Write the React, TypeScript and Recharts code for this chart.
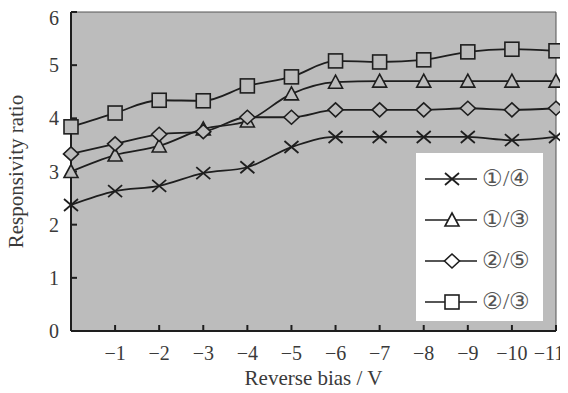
import React from "react";
import {
  LineChart,
  Line,
  XAxis,
  YAxis,
  CartesianGrid,
  ReferenceLine,
} from "recharts";

const biasValues = [0, -1, -2, -3, -4, -5, -6, -7, -8, -9, -10, -11];
const ratio14 = [2.37, 2.63, 2.73, 2.97, 3.08, 3.46, 3.65, 3.65, 3.65, 3.65, 3.59, 3.65];
const ratio13 = [3.0, 3.31, 3.48, 3.8, 3.95, 4.46, 4.68, 4.7, 4.7, 4.7, 4.7, 4.7];
const ratio25 = [3.33, 3.52, 3.7, 3.75, 4.02, 4.02, 4.16, 4.16, 4.16, 4.19, 4.16, 4.19];
const ratio23 = [3.84, 4.1, 4.34, 4.33, 4.61, 4.78, 5.08, 5.06, 5.1, 5.25, 5.3, 5.27];

const xTicks = [-1, -2, -3, -4, -5, -6, -7, -8, -9, -10, -11];
const yTicks = [0, 1, 2, 3, 4, 5, 6];

const seriesInfo = [
  { key: "r14", name: "①/④", marker: "cross" },
  { key: "r13", name: "①/③", marker: "triangle" },
  { key: "r25", name: "②/⑤", marker: "diamond" },
  { key: "r23", name: "②/③", marker: "square" },
];

const chartData = biasValues.map((v, i) => ({
  bias: v,
  r14: ratio14[i],
  r13: ratio13[i],
  r25: ratio25[i],
  r23: ratio23[i],
}));

const INK = "#1e1e1e";
const BG = "#bcbcbc";
const TEXT = "#3a3a3a";
const FONT = "'Liberation Serif', 'DejaVu Serif', serif";

function Marker({ kind, cx, cy, fill }: { kind: string; cx: number; cy: number; fill: string }) {
  if (kind === "cross") {
    return (
      <g stroke={INK} strokeWidth={1.8}>
        <line x1={cx - 7} y1={cy - 6} x2={cx + 7} y2={cy + 6} />
        <line x1={cx - 7} y1={cy + 6} x2={cx + 7} y2={cy - 6} />
      </g>
    );
  }
  if (kind === "triangle") {
    return (
      <polygon
        points={`${cx},${cy - 7} ${cx + 7},${cy + 6} ${cx - 7},${cy + 6}`}
        fill={fill}
        stroke={INK}
        strokeWidth={1.6}
      />
    );
  }
  if (kind === "diamond") {
    return (
      <polygon
        points={`${cx},${cy - 7} ${cx + 7.5},${cy} ${cx},${cy + 7} ${cx - 7.5},${cy}`}
        fill={fill}
        stroke={INK}
        strokeWidth={1.6}
      />
    );
  }
  return (
    <rect x={cx - 7} y={cy - 7} width={14} height={14} fill={fill} stroke={INK} strokeWidth={1.6} />
  );
}

function makeDot(kind: string) {
  return (props: any) => {
    const { cx, cy, index } = props;
    if (cx == null || cy == null) return <g key={index} />;
    return (
      <g key={index}>
        <Marker kind={kind} cx={cx} cy={cy} fill={BG} />
      </g>
    );
  };
}

// x tick labels, the last one nudged left so it stays on the page
function XTick(props: any) {
  const { x, y, payload } = props;
  const v = payload.value as number;
  const shift = v === -11 ? -7 : 0;
  return (
    <text x={x + shift} y={y + 15} textAnchor="middle" fill={TEXT} fontSize={20} fontFamily={FONT}>
      {`\u2212${Math.abs(v)}`}
    </text>
  );
}

function YTick(props: any) {
  const { x, y, payload } = props;
  const v = payload.value as number;
  const shift = v === 6 ? 6 : 0;
  return (
    <text x={x} y={y + 7 + shift} textAnchor="end" fill={TEXT} fontSize={20} fontFamily={FONT}>
      {v}
    </text>
  );
}

function LegendBox() {
  return (
    <div
      style={{
        position: "absolute",
        left: 416,
        top: 153,
        background: "#fff",
        width: 127,
        height: 168,
        boxSizing: "border-box",
        paddingTop: 5,
      }}
    >
      {seriesInfo.map((s) => (
        <div key={s.key} style={{ display: "flex", alignItems: "center", height: 41 }}>
          <svg width={54} height={20} style={{ marginLeft: 9, flexShrink: 0 }}>
            <line x1={0} y1={10} x2={52} y2={10} stroke={INK} strokeWidth={1.5} />
            <Marker kind={s.marker} cx={27} cy={10} fill="#fff" />
          </svg>
          <span style={{ fontFamily: FONT, fontSize: 23, color: "#555", marginLeft: 3, whiteSpace: "nowrap" }}>
            {s.name}
          </span>
        </div>
      ))}
    </div>
  );
}

export default function App() {
  return (
    <div style={{ position: "relative", width: 568, height: 393, margin: -8 }}>
      <LineChart
        width={568}
        height={393}
        data={chartData}
        margin={{ top: 12, right: 12, bottom: 0, left: 0 }}
      >
        <CartesianGrid horizontal={false} vertical={false} fill={BG} />
        <XAxis
          dataKey="bias"
          type="number"
          domain={[-11, 0]}
          reversed
          ticks={xTicks}
          interval={0}
          height={62}
          tickSize={-6}
          tickMargin={20}
          axisLine={{ stroke: INK, strokeWidth: 2 }}
          tickLine={{ stroke: INK, strokeWidth: 2 }}
          tick={<XTick />}
          label={{
            value: "Reverse bias / V",
            position: "insideBottom",
            offset: 8,
            fill: TEXT,
            fontSize: 21,
            fontFamily: FONT,
          }}
        />
        <YAxis
          type="number"
          domain={[0, 6]}
          ticks={yTicks}
          interval={0}
          width={71}
          tickSize={-6}
          tickMargin={18}
          axisLine={{ stroke: INK, strokeWidth: 2 }}
          tickLine={{ stroke: INK, strokeWidth: 2 }}
          tick={<YTick />}
          label={{
            value: "Responsivity ratio",
            angle: -90,
            position: "insideLeft",
            offset: 16,
            style: { textAnchor: "middle" },
            fill: TEXT,
            fontSize: 21,
            fontFamily: FONT,
          }}
        />
        <ReferenceLine y={6} stroke="#555" strokeWidth={1} />
        <ReferenceLine x={-11} stroke="#555" strokeWidth={1} />
        {seriesInfo.map((s) => (
          <Line
            key={s.key}
            dataKey={s.key}
            name={s.name}
            type="monotone"
            stroke={INK}
            strokeWidth={1.8}
            dot={makeDot(s.marker)}
            activeDot={false}
            isAnimationActive={false}
          />
        ))}
      </LineChart>
      <LegendBox />
    </div>
  );
}
